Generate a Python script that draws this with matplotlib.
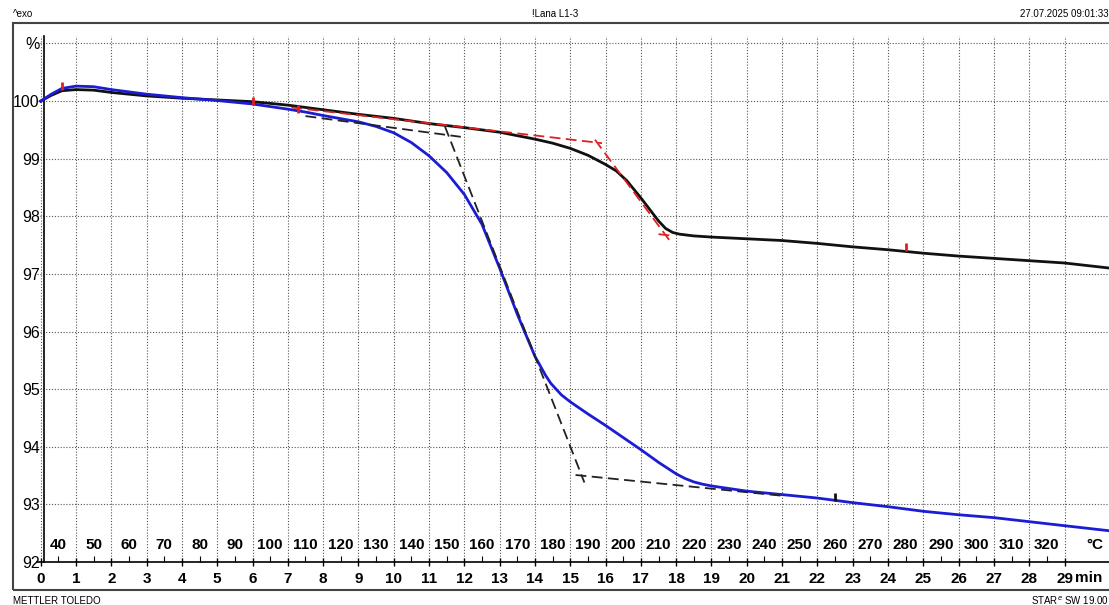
import matplotlib
matplotlib.use("Agg")
import matplotlib.pyplot as plt
from matplotlib.patches import Rectangle

plt.rcParams['font.family'] = ['Liberation Sans Narrow', 'Liberation Sans', 'DejaVu Sans']

# curve 1 (black): time in min, weight in %
t_black = [0, 0.3, 0.6, 1.0, 1.5, 2, 3, 4, 5, 6, 7, 8, 9, 10, 11, 12, 13, 14, 14.5,
           15, 15.5, 16, 16.3, 16.6, 17, 17.3, 17.5, 17.7, 17.9, 18.1, 18.5, 19, 20,
           21, 22, 23, 24, 25, 26, 27, 28, 29, 30.3]
w_black = [100.0, 100.1, 100.18, 100.2, 100.19, 100.15, 100.09, 100.05, 100.02, 99.99,
           99.93, 99.85, 99.77, 99.7, 99.61, 99.54, 99.46, 99.34, 99.27,
           99.18, 99.06, 98.9, 98.79, 98.62, 98.32, 98.08, 97.92, 97.79, 97.72, 97.69,
           97.66, 97.64, 97.61, 97.58, 97.53, 97.47, 97.42, 97.36, 97.31, 97.27,
           97.23, 97.19, 97.1]

# curve 2 (blue)
t_blue = [0, 0.3, 0.6, 1.0, 1.5, 2, 3, 4, 5, 6, 7, 7.5, 8, 9, 9.5, 10, 10.5, 11, 11.5, 12,
          12.5, 13, 13.5, 14, 14.3, 14.45, 14.6, 14.75, 15, 15.5, 16, 16.5, 17, 17.5,
          18, 18.25, 18.5, 18.75, 19, 20, 21, 22, 23, 24, 25, 26, 27, 28, 29, 30.3]
w_blue = [100.0, 100.12, 100.22, 100.26, 100.25, 100.2, 100.12, 100.06, 100.01, 99.95,
          99.86, 99.81, 99.75, 99.64, 99.56, 99.45, 99.28, 99.05, 98.76, 98.38,
          97.86, 97.1, 96.3, 95.57, 95.24, 95.1, 95.0, 94.9, 94.78, 94.57, 94.37,
          94.16, 93.95, 93.73, 93.53, 93.45, 93.39, 93.35, 93.32, 93.23, 93.17,
          93.11, 93.03, 92.96, 92.88, 92.82, 92.77, 92.7, 92.63, 92.54]

# step evaluation tangents (x0, y0, x1, y1)
tang_black = [(7.5, 99.74, 11.9, 99.38), (11.45, 99.56, 15.4, 93.38),
              (15.15, 93.51, 21.0, 93.15)]
tang_red = [(7.1, 99.89, 15.9, 99.27), (15.7, 99.33, 17.85, 97.55),
            (17.5, 97.69, 17.95, 97.66)]

marks_red = [(0.6, 100.27), (6.0, 100.0), (7.3, 99.87), (24.5, 97.47)]
marks_black = [(22.5, 93.12)]

temps = list(range(40, 330, 10))
min_ticks = list(range(0, 30))
pct_ticks = list(range(92, 102))
pct_labels = [str(v) for v in range(92, 101)] + ['%']

fig = plt.figure(figsize=(11.09, 6.05), dpi=100)
ax = fig.add_axes([37 / 1109, 43 / 605, 1 - 37 / 1109, 526 / 605])
ax.set_xlim(-0.105, 30.26)
ax.set_ylim(92, 101.13)

grid_kw = dict(color='#555555', lw=0.8, linestyle=(0, (1, 1.6)))
for m in min_ticks:
    ax.axvline(m, **grid_kw, zorder=1)
for p in pct_ticks[1:]:
    ax.axhline(p, **grid_kw, zorder=1)

ax.plot(t_black, w_black, color='#111111', lw=2, zorder=4)
ax.plot(t_blue, w_blue, color='#1c1cd4', lw=2, zorder=4)

for x0, y0, x1, y1 in tang_black:
    ax.plot([x0, x1], [y0, y1], color='#222222', lw=1.3, ls=(0, (6, 3)), zorder=5)
for x0, y0, x1, y1 in tang_red:
    ax.plot([x0, x1], [y0, y1], color='#e02020', lw=1.3, ls=(0, (6, 3)), zorder=5)

ax.plot([m[0] for m in marks_red], [m[1] for m in marks_red], ls='none',
        marker='|', ms=6, mew=2, color='#e02020', zorder=6)
ax.plot([m[0] for m in marks_black], [m[1] for m in marks_black], ls='none',
        marker='|', ms=6, mew=2, color='#111111', zorder=6)

for T in temps:
    ax.text((T - 35) / 10, 92.3, str(T), ha='center', va='center',
            fontsize=11, fontweight='bold')
ax.text(29.85, 92.3, '°C', ha='center', va='center', fontsize=11, fontweight='bold')
ax.set_xticks([(T - 35) / 10 for T in temps], minor=True)
ax.tick_params(axis='x', which='minor', length=4, direction='in', width=0.8)

ax.set_xticks(min_ticks)
ax.set_xticklabels([str(m) for m in min_ticks])
ax.text(29.3, -0.031, 'min', transform=ax.get_xaxis_transform(), ha='left',
        va='center', fontsize=11, fontweight='bold')
ax.set_yticks(pct_ticks)
ax.set_yticklabels(pct_labels)
ax.tick_params(axis='x', which='major', length=6, direction='inout', width=1,
               labelsize=11, pad=4)
ax.tick_params(axis='y', length=0, labelsize=11.5, pad=3)
for lab in ax.xaxis.get_majorticklabels() + ax.yaxis.get_majorticklabels():
    lab.set_fontweight('bold')

ax.spines['top'].set_visible(False)
ax.spines['right'].set_visible(False)
ax.spines['left'].set_position(('data', 0.09))
ax.spines['left'].set_linewidth(1.2)
ax.spines['bottom'].set_linewidth(1.2)

# outer frame and header/footer
fig.patches.append(Rectangle((13 / 1109, 15 / 605), 1.2, 567 / 605,
                             transform=fig.transFigure, fill=False,
                             edgecolor='#444444', lw=1.5))
fig.text(13 / 1109, 1 - 14 / 605, '^exo', fontsize=7, va='center', ha='left')
fig.text(555 / 1109, 1 - 14 / 605, '!Lana L1-3', fontsize=7, va='center', ha='center')
fig.text(1.0, 1 - 14 / 605, '27.07.2025 09:01:33', fontsize=7, va='center', ha='right')
fig.text(13 / 1109, 1 - 601 / 605, 'METTLER TOLEDO', fontsize=7, va='center', ha='left')
fig.text(1.0, 1 - 601 / 605, 'STAR$^e$ SW 19.00', fontsize=7, va='center', ha='right')

fig.savefig('out.png', dpi=100)
